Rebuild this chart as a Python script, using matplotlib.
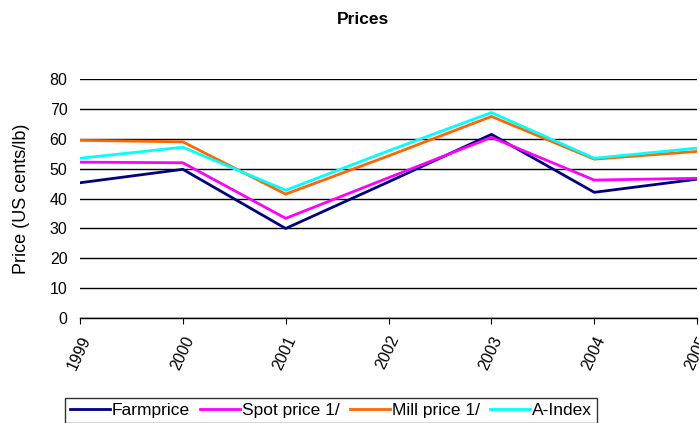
import matplotlib
matplotlib.use('Agg')
import matplotlib.pyplot as plt

plt.rcParams['font.family'] = ['Liberation Sans', 'DejaVu Sans']

years = ['1999', '2000', '2001', '2002', '2003', '2004', '2005']
farmprice = [45.3, 49.8, 30.0, 45.6, 61.5, 42.1, 46.5]
spot_price = [52.2, 52.0, 33.4, 47.0, 60.5, 46.2, 46.8]
mill_price = [59.5, 59.0, 41.5, 54.3, 67.5, 53.2, 55.8]
a_index = [53.5, 57.2, 42.8, 56.0, 68.8, 53.5, 56.9]

series = [
    ('Farmprice', farmprice, '#000080'),
    ('Spot price 1/', spot_price, '#FF00FF'),
    ('Mill price 1/', mill_price, '#FF6600'),
    ('A-Index', a_index, '#00FFFF'),
]

fig = plt.figure(figsize=(6.99, 4.23), dpi=100)
ax = fig.add_axes([0.1144, 0.248, 0.883, 0.565])

x = list(range(len(years)))
for label, vals, col in series:
    ax.plot(x, vals, color=col, lw=2.0, label=label, zorder=3)

ax.set_xlim(0, len(years) - 1)
ax.set_ylim(0, 80)
ax.set_yticks(range(0, 81, 10))
ax.yaxis.grid(True, color='black', lw=1.0, zorder=1)
ax.set_axisbelow(True)
for s in ['top', 'right', 'left']:
    ax.spines[s].set_visible(False)
ax.spines['bottom'].set_linewidth(1.0)
ax.tick_params(axis='y', length=0, labelsize=11.5, pad=9)
ax.tick_params(axis='x', length=4, direction='out', labelsize=11.5, pad=7)
ax.set_xticks(x)
ax.set_xticklabels(years, rotation=65, ha='right', va='top', rotation_mode='anchor')
ax.set_ylabel('Price (US cents/lb)', fontsize=13, labelpad=14)
fig.text(0.519, 0.955, 'Prices', ha='center', va='center', fontsize=12.5, fontweight='bold')

leg = fig.legend(loc='upper left', bbox_to_anchor=(0.093, 0.06), ncol=4,
                 frameon=True, fancybox=False, edgecolor='black', fontsize=12.5,
                 handlelength=2.3, handletextpad=0.1, columnspacing=0.6,
                 borderpad=0.3, borderaxespad=0)
leg.get_frame().set_linewidth(1.0)

fig.savefig('out.png', dpi=100)
